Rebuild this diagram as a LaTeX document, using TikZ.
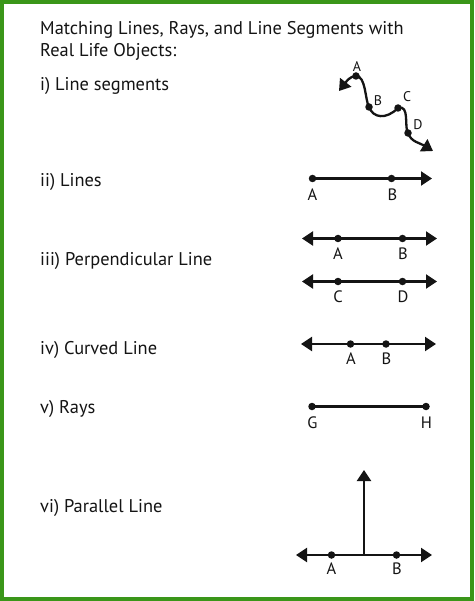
\documentclass[tikz,border=0pt]{standalone}
\usepackage{fontspec}
\setmainfont{PT Sans}
\usetikzlibrary{arrows.meta}
\definecolor{frame}{RGB}{58,150,25}
\definecolor{ink}{RGB}{20,20,20}
\tikzset{
  ln/.style={line width=2.3pt,draw=ink},
  tip/.style={-{Triangle[length=11pt,width=14pt]}},
  both/.style={{Triangle[length=11pt,width=14pt]}-{Triangle[length=11pt,width=14pt]}},
  dot/.style={circle,fill=ink,inner sep=0pt,minimum size=7.5pt},
  lab/.style={font=\fontsize{16.5pt}{18pt}\selectfont,text=ink,inner sep=0pt},
  slab/.style={font=\fontsize{14pt}{16pt}\selectfont,text=ink,inner sep=0pt},
  txt/.style={font=\fontsize{18.4pt}{21pt}\selectfont,text=ink,anchor=base west,inner sep=0pt}
}
\begin{document}
\begin{tikzpicture}[x=1pt,y=-1pt]
\useasboundingbox (0,0) rectangle (474,601);
\fill[white] (0,0) rectangle (474,601);
\draw[frame,line width=4pt] (2,2) rectangle (472,599);

% texts
\node[txt] (t1) at (40,35) {Matching Lines, Rays, and Line Segments with};
\node[txt] (t2) at (40,57) {Real Life Objects:};
\node[txt] (l1) at (40,91) {i) Line segments};
\node[txt] (l2) at (40,187) {ii) Lines};
\node[txt] (l3) at (40,265) {iii) Perpendicular Line};
\node[txt] (l4) at (40,354) {iv) Curved Line};
\node[txt] (l5) at (40,413) {v) Rays};
\node[txt] (l6) at (40,512) {vi) Parallel Line};

% 1) curve
\coordinate (c0) at (339,91);
\node[dot] (cA) at (356,76) {};
\node[dot] (cB) at (369,107) {};
\node[dot] (cC) at (398,108) {};
\node[dot] (cD) at (408,133) {};
\coordinate (c1) at (433,151);
\draw[ln,both] (c0) .. controls (346,82) and (350,76) .. (cA.center)
  .. controls (366,76) and (365,100) .. (cB.center)
  .. controls (373,118) and (386,120) .. (cC.center)
  .. controls (410,104) and (404,128) .. (cD.center)
  .. controls (411,142) and (420,143) .. (c1);
\node[slab] at (357,67) {A};
\node[slab] at (378,101) {B};
\node[slab] at (407,97) {C};
\node[slab] at (418,125) {D};

% 2) ray
\node[dot] (rA) at (312.5,178.5) {};
\node[dot] (rB) at (391.5,178.5) {};
\coordinate (rE) at (432,178.5);
\draw[ln,tip] (rA.center) -- (rE);
\node[lab] at (312.5,195) {A};
\node[lab] at (392.5,195) {B};

% 3) two lines
\coordinate (p1L) at (302,238.5);
\coordinate (p1R) at (437,238.5);
\node[dot] (pA) at (338,238.5) {};
\node[dot] (pB) at (402.5,238.5) {};
\draw[ln,both] (p1L) -- (p1R);
\node[lab] at (338,253.5) {A};
\node[lab] at (403,253.5) {B};
\coordinate (p2L) at (302,281.5);
\coordinate (p2R) at (437,281.5);
\node[dot] (pC) at (338,281.5) {};
\node[dot] (pD) at (402.5,281.5) {};
\draw[ln,both] (p2L) -- (p2R);
\node[lab] at (338,296.5) {C};
\node[lab] at (403,296.5) {D};

% 4) line
\coordinate (qL) at (301,344);
\coordinate (qR) at (436,344);
\node[dot] (qA) at (350.5,344) {};
\node[dot] (qB) at (386,344) {};
\draw[ln,both] (qL) -- (qR);
\node[lab] at (351,358.5) {A};
\node[lab] at (386.5,358.5) {B};

% 5) segment
\node[dot] (sG) at (312,406.5) {};
\node[dot] (sH) at (426,406.5) {};
\draw[ln] (sG.center) -- (sH.center);
\node[lab] at (312.5,423) {G};
\node[lab] at (426.5,423) {H};

% 6) perpendicular
\coordinate (uL) at (296,555);
\coordinate (uR) at (432,555);
\coordinate (uM) at (364,555);
\coordinate (uT) at (364,470);
\node[dot] (uA) at (331.5,555) {};
\node[dot] (uB) at (396.5,555) {};
\draw[ln,both] (uL) -- (uR);
\draw[ln,tip] (uM) -- (uT);
\node[lab] at (331.5,569) {A};
\node[lab] at (397,569) {B};
\end{tikzpicture}
\end{document}
